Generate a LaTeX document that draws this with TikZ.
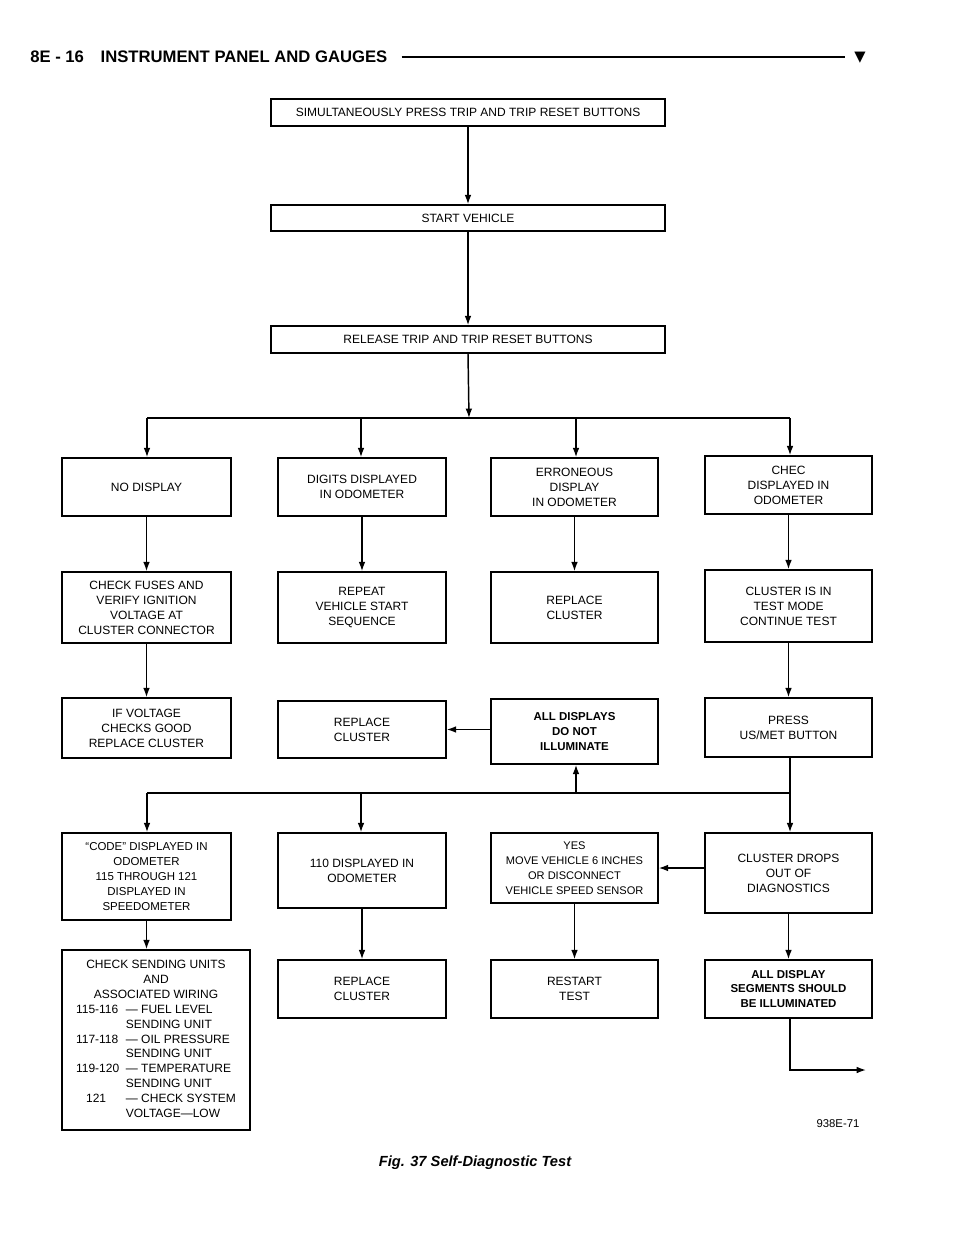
\documentclass[tikz,border=0pt]{standalone}
\usepackage{fontspec}
\setmainfont{Liberation Sans}
\newfontfamily\djv{DejaVu Sans}
\usetikzlibrary{arrows.meta}
\begin{document}
\begin{tikzpicture}[x=0.75pt,y=-0.75pt,
  bx/.style={draw,line width=1.1pt,inner sep=0pt},
  ar/.style={line width=1.1pt,-{Latex[length=7pt,width=5pt]}},
  ln/.style={line width=1.1pt}]
\useasboundingbox (0,0) rectangle (960,1242);
\newcommand\bxat[5]{\node[bx,minimum width={(#3-#1)*0.75pt},minimum height={(#4-#2)*0.75pt}] (#5) at ({(#1+#3)/2},{(#2+#4)/2}) {};}
% header
\node[anchor=west,font=\bfseries\fontsize{12.5}{14}\selectfont,inner sep=0pt] (hd) at (30,57) {8E - 16\quad INSTRUMENT PANEL AND GAUGES};
\draw[line width=1.5pt] (hd.east) ++(14,0) coordinate (h1) -- (845,57) coordinate (h2);
\node[font=\djv\fontsize{11}{11}\selectfont,inner sep=0pt] (tri) at (860,58) {▼};
\node[font=\bfseries\itshape\fontsize{11}{12}\selectfont] (cap) at (475,1163) {Fig. 37 Self-Diagnostic Test};
\node[font=\fontsize{8.5}{10}\selectfont] (fig) at (838,1124) {938E-71};
\tikzset{tx/.style={align=center,font=\fontsize{9}{11.2}\selectfont}}
% boxes
\bxat{271}{99}{665}{126}{b1} \node[tx] at (b1) {SIMULTANEOUSLY PRESS TRIP AND TRIP RESET BUTTONS};
\bxat{271}{205}{665}{231}{b2} \node[tx] at (b2) {START VEHICLE};
\bxat{271}{326}{665}{353}{b3} \node[tx] at (b3) {RELEASE TRIP AND TRIP RESET BUTTONS};
\bxat{62}{458}{231}{516}{r1a} \node[tx] at (r1a) {NO DISPLAY};
\bxat{278}{458}{446}{516}{r1b} \node[tx] at (r1b) {DIGITS DISPLAYED\\IN ODOMETER};
\bxat{491}{458}{658}{516}{r1c} \node[tx] at (r1c) {ERRONEOUS\\DISPLAY\\IN ODOMETER};
\bxat{705}{456}{872}{514}{r1d} \node[tx] at (r1d) {CHEC\\DISPLAYED IN\\ODOMETER};
\bxat{62}{572}{231}{643}{r2a} \node[tx] at (r2a) {CHECK FUSES AND\\VERIFY IGNITION\\VOLTAGE AT\\CLUSTER CONNECTOR};
\bxat{278}{572}{446}{643}{r2b} \node[tx] at (r2b) {REPEAT\\VEHICLE START\\SEQUENCE};
\bxat{491}{572}{658}{643}{r2c} \node[tx] at (r2c) {REPLACE\\CLUSTER};
\bxat{705}{570}{872}{642}{r2d} \node[tx] at (r2d) {CLUSTER IS IN\\TEST MODE\\CONTINUE TEST};
\bxat{62}{698}{231}{758}{r3a} \node[tx] at (r3a) {IF VOLTAGE\\CHECKS GOOD\\REPLACE CLUSTER};
\bxat{278}{701}{446}{758}{r3b} \node[tx] at (r3b) {REPLACE\\CLUSTER};
\bxat{491}{699}{658}{764}{r3c} \node[tx,font=\bfseries\fontsize{8.6}{11.2}\selectfont] at (r3c) {ALL DISPLAYS\\DO NOT\\ILLUMINATE};
\bxat{705}{698}{872}{757}{r3d} \node[tx] at (r3d) {PRESS\\US/MET BUTTON};
\bxat{62}{833}{231}{920}{r4a} \node[tx,font=\fontsize{8.6}{11.2}\selectfont] at (r4a) {``CODE'' DISPLAYED IN\\ODOMETER\\115 THROUGH 121\\DISPLAYED IN\\SPEEDOMETER};
\bxat{278}{833}{446}{908}{r4b} \node[tx] at (r4b) {110 DISPLAYED IN\\ODOMETER};
\bxat{491}{833}{658}{903}{r4c} \node[tx,font=\fontsize{8.3}{11.2}\selectfont] at (r4c) {YES\\MOVE VEHICLE 6 INCHES\\OR DISCONNECT\\VEHICLE SPEED SENSOR};
\bxat{705}{833}{872}{913}{r4d} \node[tx] at (r4d) {CLUSTER DROPS\\OUT OF\\DIAGNOSTICS};
\bxat{62}{950}{250}{1130}{r5a}
\node[font=\fontsize{9}{11.2}\selectfont,inner sep=0pt] at (r5a) {\begin{tabular}{@{}l@{\ \ }l@{}}
\multicolumn{2}{@{}c@{}}{CHECK SENDING UNITS}\\
\multicolumn{2}{@{}c@{}}{AND}\\
\multicolumn{2}{@{}c@{}}{ASSOCIATED WIRING}\\
115-116 & --- FUEL LEVEL\\
 & SENDING UNIT\\
117-118 & --- OIL PRESSURE\\
 & SENDING UNIT\\
119-120 & --- TEMPERATURE\\
 & SENDING UNIT\\
\ \ \ 121 & --- CHECK SYSTEM\\
 & VOLTAGE---LOW
\end{tabular}};
\bxat{278}{960}{446}{1018}{r5b} \node[tx] at (r5b) {REPLACE\\CLUSTER};
\bxat{491}{960}{658}{1018}{r5c} \node[tx] at (r5c) {RESTART\\TEST};
\bxat{705}{960}{872}{1018}{r5d} \node[tx,font=\bfseries\fontsize{8.6}{11.2}\selectfont] at (r5d) {ALL DISPLAY\\SEGMENTS SHOULD\\BE ILLUMINATED};
% connectors
\draw[ar] (b1.south) -- (b2.north);
\draw[ar] (b2.south) -- (b3.north);
\coordinate (j1) at (469,418);
\draw[ar] (b3.south) -- (j1);
\draw[ln] (147,418) coordinate (ja) -- (790,418) coordinate (jd);
\draw[ar] (ja) -- (ja |- r1a.north);
\draw[ar] (361,418) coordinate (jb) -- (jb |- r1b.north);
\draw[ar] (576,418) coordinate (jc) -- (jc |- r1c.north);
\draw[ar] (jd) -- (jd |- r1d.north);
\draw[ar] (r1a.south) -- (r2a.north);
\draw[ar] (r1b.south) -- (r2b.north);
\draw[ar] (r1c.south) -- (r2c.north);
\draw[ar] (r1d.south) -- (r2d.north);
\draw[ar] (r2a.south) -- (r3a.north);
\draw[ar] (r2d.south) -- (r3d.north);
\draw[ar] (r3c.west |- r3b.east) -- (r3b.east);
\coordinate (k4) at (790,793);
\draw[ln] (r3d.south -| k4) -- (k4) -- (147,793) coordinate (k1);
\draw[ar] (k1) -- (k1 |- r4a.north);
\draw[ar] (361,793) coordinate (k2) -- (k2 |- r4b.north);
\draw[ar] (576,793) coordinate (k3) -- (k3 |- r3c.south);
\draw[ar] (k4) -- (k4 |- r4d.north);
\draw[ar] (r4d.west |- r4c.east) -- (r4c.east);
\draw[ar] (r4a.south) -- (r4a.south |- r5a.north);
\draw[ar] (r4b.south) -- (r5b.north);
\draw[ar] (r4c.south) -- (r5c.north);
\draw[ar] (r4d.south) -- (r5d.north);
\coordinate (e1) at (790,1070);
\coordinate (e2) at (866,1070);
\draw[ar] (r5d.south -| e1) -- (e1) -- (e2);
\end{tikzpicture}
\end{document}
